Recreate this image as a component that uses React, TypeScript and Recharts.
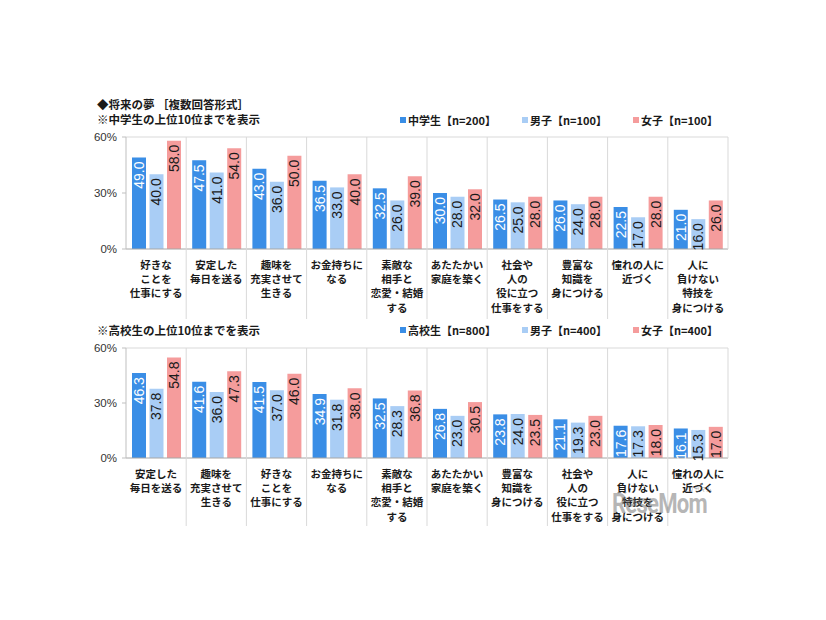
import React from 'react';
import { Bar, BarChart, LabelList, ReferenceLine, XAxis, YAxis } from 'recharts';

// 中学生 top 10
const juniorCategories = [
  '好きな\nことを\n仕事にする',
  '安定した\n毎日を送る',
  '趣味を\n充実させて\n生きる',
  'お金持ちに\nなる',
  '素敵な\n相手と\n恋愛・結婚\nする',
  'あたたかい\n家庭を築く',
  '社会や\n人の\n役に立つ\n仕事をする',
  '豊富な\n知識を\n身につける',
  '憧れの人に\n近づく',
  '人に\n負けない\n特技を\n身につける',
];
const juniorAll = [49.0, 47.5, 43.0, 36.5, 32.5, 30.0, 26.5, 26.0, 22.5, 21.0];
const juniorBoys = [40.0, 41.0, 36.0, 33.0, 26.0, 28.0, 25.0, 24.0, 17.0, 16.0];
const juniorGirls = [58.0, 54.0, 50.0, 40.0, 39.0, 32.0, 28.0, 28.0, 28.0, 26.0];
const juniorSeries = ['中学生【n=200】', '男子【n=100】', '女子【n=100】'];

// 高校生 top 10
const highCategories = [
  '安定した\n毎日を送る',
  '趣味を\n充実させて\n生きる',
  '好きな\nことを\n仕事にする',
  'お金持ちに\nなる',
  '素敵な\n相手と\n恋愛・結婚\nする',
  'あたたかい\n家庭を築く',
  '豊富な\n知識を\n身につける',
  '社会や\n人の\n役に立つ\n仕事をする',
  '人に\n負けない\n特技を\n身につける',
  '憧れの人に\n近づく',
];
const highAll = [46.3, 41.6, 41.5, 34.9, 32.5, 26.8, 23.8, 21.1, 17.6, 16.1];
const highBoys = [37.8, 36.0, 37.0, 31.8, 28.3, 23.0, 24.0, 19.3, 17.3, 15.3];
const highGirls = [54.8, 47.3, 46.0, 38.0, 36.8, 30.5, 23.5, 23.0, 18.0, 17.0];
const highSeries = ['高校生【n=800】', '男子【n=400】', '女子【n=400】'];

const yTicks = [0, 30, 60];

const COLORS = ['#3a8ee6', '#a9cdf5', '#f59c9c'];
const LABEL_COLORS = ['#ffffff', '#1a1a1a', '#1a1a1a'];
const JP = '"Noto Sans CJK JP", "Noto Sans", sans-serif';
const NUM = '"Liberation Sans", Arial, sans-serif';
const GRID = '#d9d9d9';
const PLOT_W = 602;

const barLabel = (color: string) => (props: any) => {
  const vb = props.viewBox && props.viewBox.width != null ? props.viewBox : props;
  const cx = Number(vb.x) + Number(vb.width) / 2;
  const ty = Number(vb.y) + 4;
  return (
    <text
      x={cx}
      y={ty}
      transform={`rotate(-90 ${cx} ${ty})`}
      textAnchor="end"
      dominantBaseline="central"
      fill={color}
      fontSize={14}
      fontFamily={NUM}
    >
      {Number(props.value).toFixed(1)}
    </text>
  );
};

interface DreamChartProps {
  categories: string[];
  all: number[];
  boys: number[];
  girls: number[];
  top: number;
  axisH: number;
  plotH: number;
  extend: number;
}

function DreamChart({ categories, all, boys, girls, top, axisH, plotH, extend }: DreamChartProps) {
  const data = categories.map((c, i) => ({ name: c, a: all[i], b: boys[i], g: girls[i] }));
  const bw = PLOT_W / categories.length;

  const tick = (props: any) => {
    const { x, y, payload, index } = props;
    const lines = String(payload.value).split('\n');
    const last = index === categories.length - 1;
    const lx = x + bw / 2;
    return (
      <g>
        <line x1={lx} x2={lx} y1={y - plotH} y2={last ? y : y + extend} stroke={GRID} />
        <text x={x} y={y + 20} textAnchor="middle" fill="#1a1a1a" fontSize={10.5} fontWeight="bold" fontFamily={JP}>
          {lines.map((l, k) => (
            <tspan key={k} x={x} dy={k === 0 ? 0 : 14.2}>
              {l}
            </tspan>
          ))}
        </text>
      </g>
    );
  };

  return (
    <BarChart
      width={826}
      height={200}
      data={data}
      margin={{ top, right: 98, bottom: 0, left: 0 }}
      barGap={3.5}
      barSize={14}
    >
      <ReferenceLine y={60} stroke={GRID} />
      <XAxis
        dataKey="name"
        height={axisH}
        interval={0}
        tickLine={false}
        tickSize={0}
        tickMargin={0}
        tick={tick}
        axisLine={{ stroke: '#a6a6a6' }}
      />
      <YAxis
        domain={[0, 60]}
        ticks={yTicks}
        width={126}
        tickFormatter={(v) => `${v}%`}
        tickSize={4}
        tickMargin={5}
        axisLine={{ stroke: '#bfbfbf' }}
        tickLine={{ stroke: '#bfbfbf' }}
        tick={{ fill: '#333', fontSize: 11.5, fontFamily: NUM }}
      />
      <Bar dataKey="a" fill={COLORS[0]} isAnimationActive={false}>
        <LabelList dataKey="a" content={barLabel(LABEL_COLORS[0])} />
      </Bar>
      <Bar dataKey="b" fill={COLORS[1]} isAnimationActive={false}>
        <LabelList dataKey="b" content={barLabel(LABEL_COLORS[1])} />
      </Bar>
      <Bar dataKey="g" fill={COLORS[2]} isAnimationActive={false}>
        <LabelList dataKey="g" content={barLabel(LABEL_COLORS[2])} />
      </Bar>
    </BarChart>
  );
}

function LegendRow({ names, top }: { names: string[]; top: number }) {
  return (
    <div
      style={{
        position: 'absolute',
        left: 400,
        top,
        display: 'flex',
        gap: 26,
        fontFamily: JP,
        fontWeight: 'bold',
        fontSize: 11,
        lineHeight: '14px',
        color: '#1a1a1a',
        whiteSpace: 'nowrap',
      }}
    >
      {names.map((n, i) => (
        <div key={n} style={{ display: 'flex', alignItems: 'center' }}>
          <span style={{ width: 6, height: 6, background: COLORS[i], marginRight: 2, display: 'inline-block' }} />
          {n}
        </div>
      ))}
    </div>
  );
}

const textStyle: React.CSSProperties = {
  position: 'absolute',
  left: 97,
  fontFamily: JP,
  fontWeight: 'bold',
  fontSize: 11.5,
  lineHeight: '14px',
  color: '#1a1a1a',
  whiteSpace: 'pre',
};

export default function App() {
  return (
    <div style={{ position: 'absolute', left: 0, top: 0, width: 826, height: 620, background: '#fff', overflow: 'hidden' }}>
      <div style={{ ...textStyle, top: 97 }}>◆将来の夢 ［複数回答形式］</div>
      <div style={{ ...textStyle, top: 112 }}>※中学生の上位10位までを表示</div>
      <LegendRow names={juniorSeries} top={113} />
      <div style={{ position: 'absolute', left: 0, top: 130 }}>
        <DreamChart
          categories={juniorCategories}
          all={juniorAll}
          boys={juniorBoys}
          girls={juniorGirls}
          top={7}
          axisH={81}
          plotH={112}
          extend={70}
        />
      </div>

      <div style={{ ...textStyle, top: 323 }}>※高校生の上位10位までを表示</div>
      <LegendRow names={highSeries} top={323} />
      <div style={{ position: 'absolute', left: 0, top: 340 }}>
        <DreamChart
          categories={highCategories}
          all={highAll}
          boys={highBoys}
          girls={highGirls}
          top={8}
          axisH={82}
          plotH={110}
          extend={68}
        />
      </div>

      <div
        style={{
          position: 'absolute',
          left: 612,
          top: 488,
          fontFamily: 'Roboto, sans-serif',
          fontWeight: 'bold',
          fontSize: 27,
          letterSpacing: -1,
          color: 'rgba(110,110,110,0.5)',
          transform: 'scaleX(0.82)',
          transformOrigin: 'left top',
          whiteSpace: 'nowrap',
        }}
      >
        ReseMom
      </div>
      <div
        style={{
          position: 'absolute',
          left: 688,
          top: 484,
          fontFamily: JP,
          fontSize: 6,
          color: 'rgba(110,110,110,0.6)',
        }}
      >
        リセマム
      </div>
    </div>
  );
}
